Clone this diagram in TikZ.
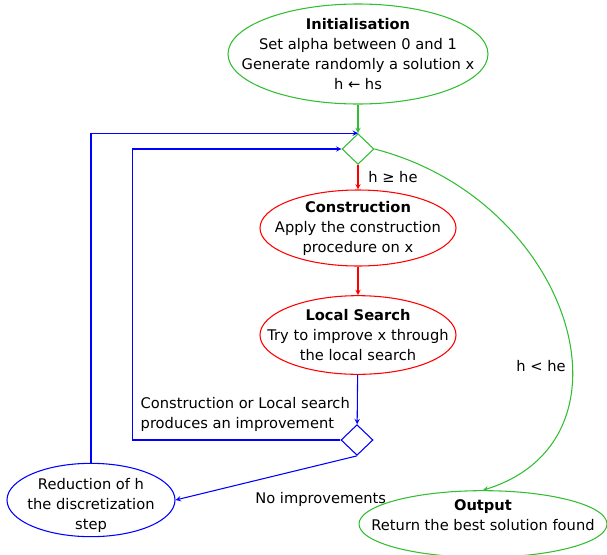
\documentclass[tikz,border=0pt]{standalone}
\usepackage{fontspec}
\setmainfont{DejaVu Sans}
\usetikzlibrary{shapes}
\usetikzlibrary{arrows}
\usetikzlibrary{positioning}

\definecolor{grn}{RGB}{50,190,50}

\begin{document}
\begin{tikzpicture}[x=0.75pt,y=-0.75pt,font=\fontsize{11}{15}\selectfont]
\tikzstyle{phase}=[ellipse,draw,line width=0.8pt,inner sep=0pt]
\tikzstyle{test}=[diamond,draw,line width=0.8pt,minimum width=24pt,
minimum height=23pt,inner sep=0pt]
\tikzstyle{link}=[->,>=stealth,line width=0.8pt]
\useasboundingbox (0,0) rectangle (607,554);
\node[phase,draw=grn,minimum width=195pt,minimum height=75pt,
label={[align=center]center:\textbf{Initialisation}\\Set alpha between 0 and 1\\Generate randomly a solution x\\h ← hs}]
(init) at (358,54) {};
\node[test,draw=grn] (check) at (358,149) {};
\node[phase,draw=red,minimum width=147pt,minimum height=57pt,
label={[align=center]center:\textbf{Construction}\\Apply the construction\\procedure on x}]
(constr) at (358,228) {};
\node[phase,draw=red,minimum width=147pt,minimum height=59pt,
label={[align=center]center:\textbf{Local Search}\\Try to improve x through\\the local search}]
(ls) at (358,335) {};
\node[test,draw=blue] (better) at (357,440) {};
\node[phase,draw=blue,minimum width=126pt,minimum height=55pt,
label={[align=center,yshift=-4pt]center:Reduction of h\\the discretization\\step}]
(reduce) at (91,500) {};
\node[phase,draw=grn,minimum width=186pt,minimum height=50pt,
label={[align=center,yshift=7pt]center:\textbf{Output}\\Return the best solution found}]
(out) at (483,524) {};
\node[anchor=west,align=left] (improved) at (136,414)
{Construction or Local search\\produces an improvement};
\node (hlow) at (541,366) {h < he};

\draw[link,draw=grn] (init) -- (check);
\draw[link,draw=red] (check) -- node[right=4pt] {h ≥ he} (constr);
\draw[link,draw=red] (constr) -- (ls);
\draw[link,draw=blue] (ls) -- (better);
\draw[link,draw=blue] (better.west) -- ++(-208,0) |- (check.west);
\draw[link,draw=blue] (better.south) -- node[pos=0.2,below=17pt] {No improvements} (reduce.east);
\draw[link,draw=blue] (reduce.north) |- (check.north);
\draw[link,draw=grn] (check.east) .. controls (572,200) and (645,440) .. (out.north);
\end{tikzpicture}
\end{document}
